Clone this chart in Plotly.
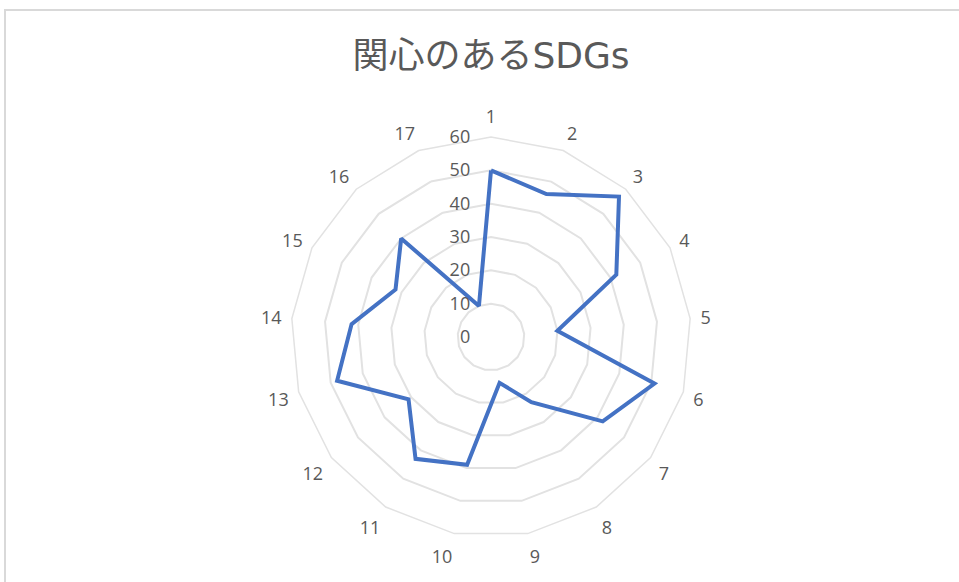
import plotly.graph_objects as go

categories = [str(i) for i in range(1, 18)]
values = [50, 46, 57, 42, 20, 51, 42, 23, 14, 39, 43, 31, 48, 42, 32, 40, 10]
radial_ticks = [0, 10, 20, 30, 40, 50, 60]
title_text = "関心のある<span style='font-family:DejaVu Sans'>SDGs</span>"

W, H = 959, 582
cx, cy, R = 491, 337, 200

fig = go.Figure()
fig.add_trace(go.Scatterpolar(
    r=values + values[:1],
    theta=categories + categories[:1],
    mode="lines",
    line=dict(color="#4472C4", width=4),
    hoverinfo="r+theta",
))

grid = "#e2e2e2"
txt = "#595959"
fig.update_layout(
    width=W, height=H,
    margin=dict(l=0, r=0, t=0, b=0),
    paper_bgcolor="white",
    showlegend=False,
    title=dict(text=title_text, x=491 / W, xanchor="center", y=1 - 55 / H, yanchor="middle",
               font=dict(family="Noto Sans CJK JP", size=36, color=txt)),
    polar=dict(
        domain=dict(x=[(cx - R) / W, (cx + R) / W], y=[(H - cy - R) / H, (H - cy + R) / H]),
        bgcolor="white",
        gridshape="linear",
        radialaxis=dict(
            range=[0, 60], tickvals=radial_ticks, angle=90, side="counterclockwise",
            showline=False, ticks="outside", ticklen=14, tickcolor="rgba(0,0,0,0)",
            gridcolor=grid, gridwidth=1.5, tickangle=90,
            tickfont=dict(family="Open Sans", size=18, color=txt),
        ),
        angularaxis=dict(
            direction="clockwise", rotation=90, type="category",
            categoryarray=categories,
            showgrid=False, showline=True, linecolor=grid, linewidth=1.5,
            ticks="outside", ticklen=6, tickcolor="rgba(0,0,0,0)",
            tickfont=dict(family="Open Sans", size=18, color=txt),
        ),
    ),
    shapes=[dict(type="rect", xref="paper", yref="paper",
                 x0=5 / W, x1=1.02, y0=-0.02, y1=1 - 10 / H,
                 line=dict(color="#d9d9d9", width=2), fillcolor="rgba(0,0,0,0)", layer="below")],
)

fig.write_html("out.html",
               config={"displayModeBar": False},
               post_script="document.body.style.margin='0';document.body.style.overflow='hidden';")
